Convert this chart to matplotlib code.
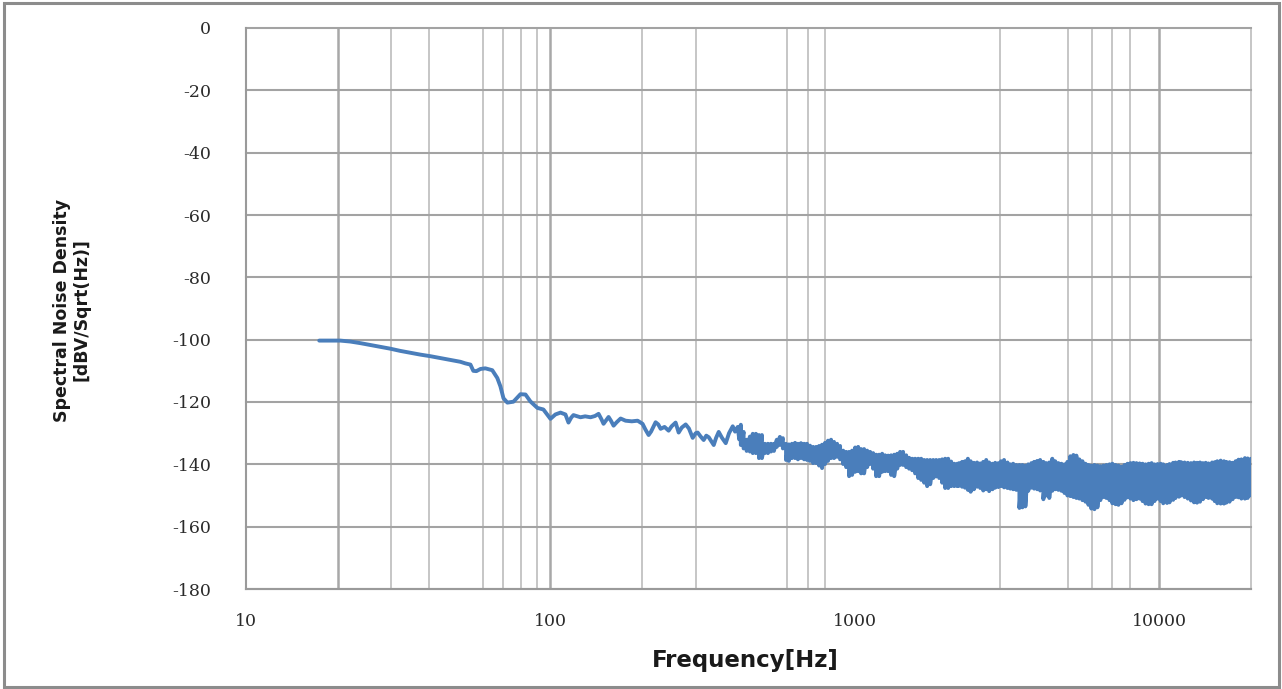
import numpy as np
import matplotlib.pyplot as plt
from matplotlib.patches import Rectangle
from matplotlib.ticker import NullLocator

# spectral noise density
# low end: smooth roll-off up to ~110 Hz
freq_low = [17.4, 18.9, 20.4, 22.0, 23.7, 25.6, 27.6, 29.8, 32.1, 34.6,
            37.4, 40.3, 43.5, 46.9, 50.6, 52.5, 54.6, 55.8, 57.1, 58.9,
            61.1, 64.4, 66.9, 68.5, 70.1, 72.2, 75.6, 79.7, 82.8, 85.9,
            90.6, 94.8, 100.0, 103.8]
db_low = [-100.3, -100.3, -100.3, -100.6, -101.1, -101.7, -102.3, -102.9, -103.6, -104.2,
          -104.8, -105.3, -105.9, -106.5, -107.1, -107.6, -108.0, -110.0, -110.1, -109.4,
          -109.2, -109.8, -112.3, -115.0, -118.8, -120.2, -119.9, -117.5, -117.6, -119.8,
          -121.9, -122.4, -125.4, -124.0]

# 100 Hz - 420 Hz, wiggly
freq_mid = [107.9, 112.0, 114.6, 117.0, 119.0, 125.5, 130.0, 135.4, 140.0, 143.9,
            147.0, 149.4, 155.2, 158.0, 161.2, 165.0, 170.0, 176.5, 185.0, 193.3,
            200.7, 205.0, 210.1, 214.0, 221.5, 226.0, 230.1, 237.0, 244.4, 250.0,
            257.7, 263.7, 270.0, 278.1, 285.0, 293.2, 300.0, 304.5, 311.0, 318.6,
            325.0, 331.0, 337.0, 343.8, 350.0, 357.0, 366.0, 376.5, 386.0, 396.9,
            404.0, 412.2, 417.0]
db_mid = [-123.4, -124.0, -126.6, -125.0, -124.2, -124.9, -124.6, -124.9, -124.5, -123.8,
          -125.5, -127.0, -124.8, -126.0, -127.6, -126.5, -125.3, -126.0, -126.2, -126.0,
          -127.0, -128.8, -130.6, -129.5, -126.5, -127.2, -128.6, -128.0, -129.2, -127.8,
          -126.6, -129.8, -128.2, -127.2, -128.5, -131.5, -130.0, -129.8, -131.0, -132.2,
          -130.8, -131.3, -132.5, -133.8, -131.5, -129.6, -131.5, -133.2, -130.0, -127.8,
          -129.5, -128.0, -132.0]

# 420 Hz - 2.2 kHz: noisy band, peak and trough of the trace at each frequency
freq_band1 = [422, 431, 441, 452, 462, 473, 484, 495, 506, 518,
              530, 542, 554, 567, 580, 594, 607, 621, 636, 650,
              665, 681, 696, 712, 729, 746, 763, 780, 798, 816,
              835, 854, 874, 894, 915, 936, 957, 979, 1002, 1025,
              1048, 1072, 1097, 1122, 1148, 1174, 1201, 1229, 1257, 1286,
              1315, 1346, 1377, 1408, 1440, 1474, 1507, 1542, 1577, 1614,
              1651, 1689, 1727, 1767, 1808, 1849, 1892, 1935, 1979, 2025,
              2071, 2119, 2168]
db_band1_hi = [-127.3, -129.6, -132.1, -131.1, -130.2, -130.2, -130.6, -130.6, -133.4, -133.4,
               -133.4, -133.4, -132.1, -131.2, -131.6, -133.4, -133.6, -133.4, -133.1, -133.4,
               -133.2, -133.4, -133.4, -134.0, -134.4, -134.4, -134.1, -133.7, -133.1, -132.4,
               -132.1, -132.8, -133.4, -134.1, -135.6, -136.0, -136.0, -135.6, -134.6, -134.4,
               -135.1, -135.1, -135.6, -136.0, -136.4, -136.9, -136.9, -136.6, -137.1, -137.2,
               -137.1, -136.9, -136.6, -136.0, -136.0, -137.1, -137.9, -138.2, -138.2, -138.2,
               -138.2, -138.6, -138.6, -138.6, -138.6, -138.6, -138.6, -138.4, -138.2, -138.2,
               -139.1, -139.8, -139.8]
db_band1_lo = [-133.8, -134.9, -135.7, -135.9, -136.4, -136.4, -138.0, -138.0, -136.4, -136.4,
               -135.9, -135.7, -134.4, -133.8, -134.9, -138.6, -138.9, -138.0, -138.0, -138.4,
               -138.0, -138.4, -138.6, -138.9, -139.6, -139.6, -140.4, -141.2, -139.9, -138.9,
               -138.0, -138.0, -137.6, -138.4, -139.9, -140.9, -143.8, -143.4, -142.4, -142.2,
               -142.9, -142.9, -140.9, -139.9, -141.4, -143.8, -143.8, -142.4, -142.2, -142.2,
               -143.4, -143.8, -141.4, -140.2, -140.2, -140.9, -141.4, -141.9, -142.9, -144.4,
               -145.0, -145.9, -147.0, -146.4, -144.4, -143.9, -144.4, -145.9, -147.6, -147.6,
               -147.0, -147.0, -147.0]

# 2.2 kHz - 20 kHz: dense noise floor
freq_band2 = [2200, 2250, 2300, 2350, 2400, 2460, 2520, 2580, 2640, 2700,
              2760, 2830, 2890, 2960, 3020, 3090, 3170, 3240, 3310, 3390,
              3470, 3550, 3630, 3710, 3800, 3880, 3970, 4060, 4160, 4250,
              4350, 4450, 4550, 4660, 4770, 4880, 4990, 5100, 5220, 5340,
              5460, 5590, 5720, 5850, 5980, 6120, 6260, 6400, 6550, 6700,
              6860, 7010, 7180, 7340, 7510, 7680, 7860, 8040, 8220, 8410,
              8610, 8810, 9010, 9220, 9430, 9640, 9870, 10100, 10300, 10600,
              10800, 11100, 11300, 11600, 11800, 12100, 12400, 12700, 13000, 13300,
              13600, 13900, 14200, 14500, 14900, 15200, 15500, 15900, 16300, 16600,
              17000, 17400, 17800, 18200, 18600, 19100, 19500, 20000]
db_band2_hi = [-139.6, -139.2, -139.0, -138.2, -139.0, -139.5, -139.4, -139.7, -139.2, -138.6,
               -139.4, -139.8, -139.5, -139.6, -139.0, -138.6, -139.4, -140.0, -139.8, -140.2,
               -140.2, -140.2, -140.4, -140.0, -139.6, -139.2, -138.9, -138.6, -139.2, -139.6,
               -139.4, -138.2, -139.0, -139.6, -139.8, -140.0, -139.2, -137.4, -137.0, -137.2,
               -138.4, -139.0, -139.8, -140.2, -140.4, -140.2, -140.4, -140.6, -140.4, -140.2,
               -140.0, -139.8, -140.2, -140.4, -140.8, -140.2, -139.8, -139.6, -139.5, -139.6,
               -139.7, -139.8, -140.0, -139.8, -139.6, -140.0, -139.9, -139.8, -140.0, -140.2,
               -139.9, -139.5, -139.4, -139.2, -139.3, -139.4, -139.5, -139.6, -139.4, -139.5,
               -139.4, -139.6, -139.5, -139.7, -139.4, -139.3, -139.0, -138.8, -139.0, -139.2,
               -139.3, -139.5, -139.0, -138.5, -138.4, -138.0, -138.1, -138.2]
db_band2_lo = [-146.9, -147.2, -147.5, -148.2, -148.8, -148.0, -147.2, -147.6, -148.4, -148.0,
               -148.6, -148.0, -147.5, -147.3, -147.0, -147.4, -147.6, -147.8, -148.0, -148.2,
               -154.0, -153.8, -153.5, -148.5, -147.5, -147.8, -148.0, -148.4, -151.2, -150.0,
               -150.8, -148.5, -148.0, -148.2, -148.5, -149.2, -150.0, -150.2, -150.5, -150.8,
               -151.0, -151.5, -152.0, -153.0, -154.2, -154.4, -153.8, -151.5, -150.5, -150.8,
               -151.5, -152.5, -152.8, -153.0, -152.5, -151.4, -150.6, -151.0, -151.5, -151.2,
               -151.0, -151.8, -152.6, -152.8, -152.8, -151.8, -151.0, -151.8, -152.5, -152.4,
               -152.2, -151.4, -150.8, -150.4, -150.0, -150.5, -151.0, -151.6, -152.2, -152.3,
               -152.0, -151.2, -150.5, -150.8, -151.0, -151.8, -152.5, -152.6, -152.6, -152.3,
               -152.0, -151.2, -150.5, -150.6, -151.0, -151.0, -150.8, -150.0]

# the trace swings between peak and trough at every frequency in the bands
band_f = np.repeat(freq_band1 + freq_band2, 2)
band_db = np.column_stack([db_band1_hi + db_band2_hi,
                           db_band1_lo + db_band2_lo]).ravel()
freq = np.concatenate([freq_low, freq_mid, band_f])
noise_db = np.concatenate([db_low, db_mid, band_db])

freq_ticks = [10, 100, 1000, 10000]
db_ticks = [0, -20, -40, -60, -80, -100, -120, -140, -160, -180]
grid_light = [30, 40, 60, 70, 80, 90, 200, 300, 600, 700, 800,
              3000, 5000, 6000, 7000, 8000, 20000]
grid_dark = [20, 100, 10000]

W, H = 1282, 689
fig = plt.figure(figsize=(W / 100, H / 100), dpi=100)
ax = fig.add_axes([246 / W, 1 - 589 / H, (1251 - 246) / W, (589 - 28) / H])
ax.set_xscale('log')
ax.set_xlim(10, 20000)
ax.set_ylim(-180, 0)

for f in grid_light:
    ax.axvline(f, color='#c6c6c6', lw=1.4, zorder=0, clip_on=False)
for f in grid_dark:
    ax.axvline(f, color='#a8a8a8', lw=1.8, zorder=0)
for v in db_ticks:
    ax.axhline(v, color='#a3a3a3', lw=1.5, zorder=0, clip_on=False)

ax.plot(freq, noise_db, color='#4a7ebb', lw=2.8,
        solid_joinstyle='round', solid_capstyle='round', zorder=3)

ax.set_xticks(freq_ticks)
ax.set_xticklabels([str(f) for f in freq_ticks])
ax.xaxis.set_minor_locator(NullLocator())
ax.set_yticks(db_ticks)
ax.set_yticklabels([str(v) for v in db_ticks])
ax.tick_params(axis='x', length=0, pad=17, labelsize=12.5, labelcolor='#2b2b2b')
ax.tick_params(axis='y', length=0, pad=25, labelsize=12.5, labelcolor='#2b2b2b')
for lab in ax.get_xticklabels() + ax.get_yticklabels():
    lab.set_family('DejaVu Serif')

for side in ['top', 'right']:
    ax.spines[side].set_visible(False)
ax.spines['left'].set_color('#9a9a9a')
ax.spines['bottom'].set_color('#9a9a9a')
ax.spines['left'].set_linewidth(1.5)
ax.spines['bottom'].set_linewidth(1.5)

fig.text(72 / W, 1 - 310 / H, 'Spectral Noise Density\n[dBV/Sqrt(Hz)]',
         rotation=90, ha='center', va='center', multialignment='center',
         fontsize=12.5, linespacing=1.1, color='#1a1a1a',
         family=['Liberation Sans Narrow', 'DejaVu Sans'], weight='bold')
fig.text(745 / W, 1 - 661 / H, 'Frequency[Hz]', ha='center', va='center',
         fontsize=16.5, weight='bold', color='#1a1a1a')

fig.add_artist(Rectangle((4 / W, 2 / H), (1279 - 4) / W, (686 - 2) / H,
                         transform=fig.transFigure, fill=False,
                         edgecolor='#8c8c8c', lw=2.2))

fig.savefig('out.png', dpi=100)
